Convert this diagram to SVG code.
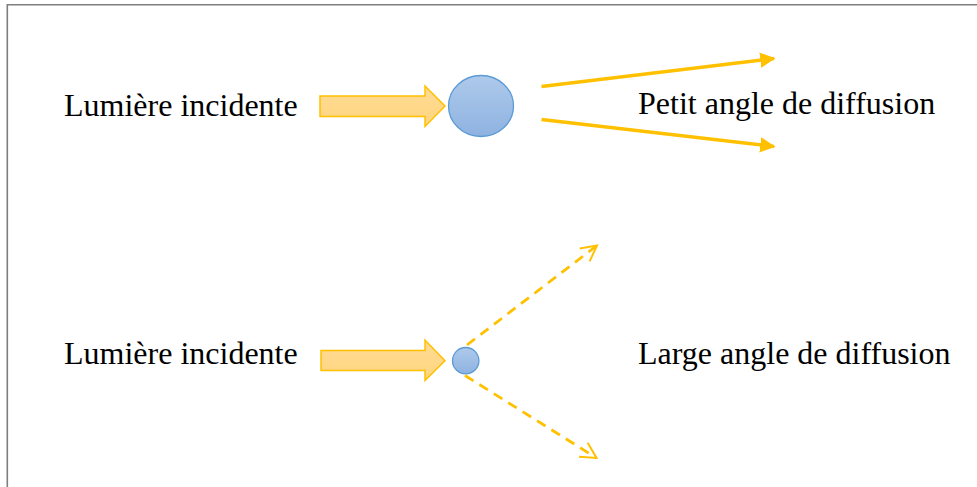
<svg xmlns="http://www.w3.org/2000/svg" width="977" height="487" viewBox="0 0 977 487">
  <style>
    .label { font-family: "Liberation Serif", "Times New Roman", serif; font-size: 32px; fill: #000; }
    .beam { fill: url(#beamFill); stroke: #FFC000; stroke-width: 1.5; stroke-linejoin: miter; }
    .particle { fill: url(#particleFill); stroke: #5B9BD5; stroke-width: 1.3; }
    .ray { fill: none; stroke: #FFC000; stroke-width: 3.5; }
    .ray-dashed { fill: none; stroke: #FFC000; stroke-width: 2.8; stroke-dasharray: 10 7; }
    .frame { fill: none; stroke: #7F7F7F; stroke-width: 1.6; }
  </style>
  <defs>
    <linearGradient id="beamFill" x1="0" y1="0" x2="0" y2="1">
      <stop offset="0" stop-color="#FFDB94"/>
      <stop offset="1" stop-color="#FFD57F"/>
    </linearGradient>
    <linearGradient id="particleFill" x1="0" y1="0" x2="0" y2="1">
      <stop offset="0" stop-color="#AECAEB"/>
      <stop offset="1" stop-color="#8EB2E0"/>
    </linearGradient>
    <marker id="solidHead" viewBox="0 0 10 10" refX="9" refY="5" markerWidth="4.4" markerHeight="4.4" orient="auto" markerUnits="strokeWidth">
      <path d="M0,0 L10,5 L0,10 Z" fill="#FFC000"/>
    </marker>
    <marker id="openHead" viewBox="0 0 12 12" refX="10.5" refY="6" markerWidth="7" markerHeight="7" orient="auto" markerUnits="strokeWidth">
      <path d="M1,1 L10.5,6 L1,11" fill="none" stroke="#FFC000" stroke-width="1.2" stroke-linejoin="miter"/>
    </marker>
  </defs>

  <!-- page frame -->
  <path class="frame" d="M7.3,487 L7.3,4.8 L977,4.8"/>

  <!-- upper case: large particle -->
  <g id="label-incident-top">
    <text class="label" x="64" y="115.5">Lumière incidente</text>
  </g>
  <g id="beam-top">
    <path class="beam" d="M320,96 L425,96 L425,86 L445,106 L425,126.5 L425,116.5 L320,116.5 Z"/>
  </g>
  <g id="particle-large">
    <ellipse class="particle" cx="481" cy="106" rx="32.5" ry="30.5"/>
  </g>
  <g id="label-small-angle">
    <text class="label" x="638" y="113.5">Petit angle de diffusion</text>
  </g>

  <!-- lower case: small particle -->
  <g id="label-incident-bottom">
    <text class="label" x="64" y="363.5">Lumière incidente</text>
  </g>
  <g id="beam-bottom">
    <path class="beam" d="M321,350.5 L425,350.5 L425,340 L445,360.7 L425,380.5 L425,370.5 L321,370.5 Z"/>
  </g>
  <g id="particle-small">
    <circle class="particle" cx="465.7" cy="360.7" r="13.2"/>
  </g>
  <g id="label-large-angle">
    <text class="label" x="638" y="363.5">Large angle de diffusion</text>
  </g>

  <!-- scattered rays -->
  <g id="connectors">
    <line class="ray" x1="541.5" y1="86.5" x2="774" y2="58.5" marker-end="url(#solidHead)"/>
    <line class="ray" x1="541.5" y1="119.5" x2="774" y2="146.5" marker-end="url(#solidHead)"/>
    <line class="ray-dashed" x1="467" y1="345" x2="597" y2="245.5" marker-end="url(#openHead)"/>
    <line class="ray-dashed" x1="465" y1="375.5" x2="596.5" y2="458" marker-end="url(#openHead)"/>
  </g>
</svg>
